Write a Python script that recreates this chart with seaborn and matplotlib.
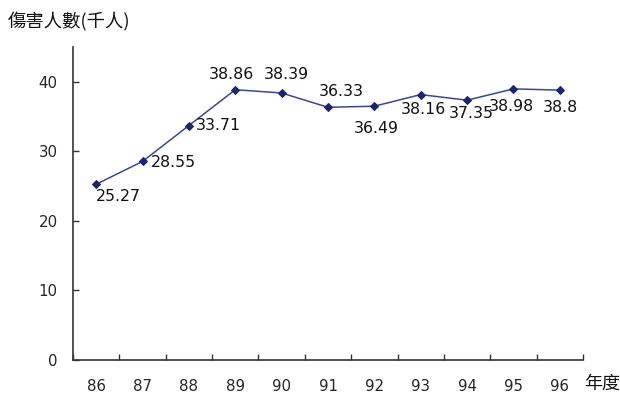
import matplotlib
matplotlib.use("Agg")
import matplotlib.pyplot as plt
import seaborn as sns
import pandas as pd
import numpy as np

years = ["86", "87", "88", "89", "90", "91", "92", "93", "94", "95", "96"]
injured = [25.27, 28.55, 33.71, 38.86, 38.39, 36.33, 36.49, 38.16, 37.35, 38.98, 38.8]
y_ticks = [0, 10, 20, 30, 40]

# label placement around each point (pixels: right, up)
label_dx = [22, 31, 29, -4, 5, 13, 2, 3, 4, -2, 1]
label_dy = [-12, -1, 0, 15, 18, 16, -22, -15, -13, -18, -17]

sns.set_style("white")
plt.rcParams["font.family"] = ["DejaVu Sans", "Noto Sans CJK TC"]

df = pd.DataFrame({"pos": np.arange(len(years)), "value": injured})

fig = plt.figure(figsize=(6.2, 3.96), dpi=100)
ax = fig.add_axes([73 / 620, 36 / 396, 510 / 620, 313 / 396])

sns.lineplot(data=df, x="pos", y="value", ax=ax, color="#3b4796", linewidth=1.1,
             marker="D", markersize=4.5, markerfacecolor="#1c2470",
             markeredgecolor="#1c2470")

for i, v in enumerate(injured):
    ax.annotate(f"{v:g}", (i, v), xytext=(label_dx[i], label_dy[i]),
                textcoords="offset pixels", ha="center", va="center",
                fontsize=11.3, color="#111111")

ax.set_xlim(-0.5, len(years) - 0.5)
ax.set_ylim(0, 45)
ax.set_yticks(y_ticks)
ax.set_xticks(np.arange(len(years)))
ax.set_xticklabels(years)
ax.set_xticks(np.arange(len(years) + 1) - 0.5, minor=True)
ax.set_xlabel("")
ax.set_ylabel("")

ax.tick_params(axis="x", which="major", bottom=True, length=0, pad=14,
               labelsize=10.8)
ax.tick_params(axis="x", which="minor", bottom=True, direction="in", length=4,
               width=1, color="#333333")
ax.tick_params(axis="y", left=True, direction="in", length=4, width=1,
               color="#333333", pad=11, labelsize=10.8)

for side in ["top", "right"]:
    ax.spines[side].set_visible(False)
for side in ["left", "bottom"]:
    ax.spines[side].set_color("#333333")
    ax.spines[side].set_linewidth(1.2)

fig.text(8 / 620, 1 - 22 / 396, "傷害人數(千人)", ha="left", va="center",
         fontsize=13.2, family=["Noto Sans CJK TC"], color="#111111")
fig.text(584 / 620, 1 - 384 / 396, "年度", ha="left", va="center",
         fontsize=13, family=["Noto Sans CJK TC"], color="#111111")

fig.savefig("out.png", dpi=100, facecolor="white")
